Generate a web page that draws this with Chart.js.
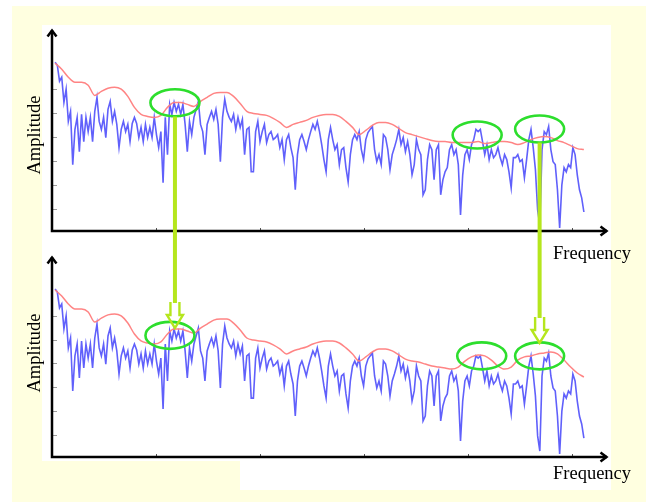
<!DOCTYPE html>
<html>
<head>
<meta charset="utf-8">
<script src="https://cdn.jsdelivr.net/npm/chart.js@4"></script>
<style>
  html, body { margin: 0; padding: 0; background: #fff; }
  #stage { position: relative; width: 646px; height: 502px; overflow: hidden; }
  .sheet { position: absolute; left: 12px; top: 6px; width: 634px; height: 496px; background: #ffffe0; }
  .panel { position: absolute; background: #fff; }
  canvas { position: absolute; left: 0; top: 0; }
</style>
</head>
<body>
<div id="stage">
  <div class="sheet"></div>
  <div class="panel" style="left:42px;top:25px;width:569px;height:436px"></div>
  <div class="panel" style="left:240px;top:461px;width:371px;height:29px"></div>
  <canvas id="spectrumTop" width="646" height="502"></canvas>
  <canvas id="spectrumBottom" width="646" height="502"></canvas>
</div>
<script>
// Frequency bins (kHz): first bin and bin spacing
const freqStart = 0.03;
const freqStep = 0.0212;

// Measured spectrum amplitude, one value per bin
const amplitude = [
  83.4, 81.9, 73.9, 75.9, 63.3, 69.9, 53.8, 58.8, 32.2, 49.8,
  55.8, 38.7, 57.3, 43.7, 55.8, 48.7, 55.8, 43.7, 58.8, 65.8,
  53.8, 49.8, 55.8, 45.7, 59.8, 63.8, 53.8, 58.8, 52.3, 40.7,
  49.8, 53.8, 48.7, 52.3, 43.7, 52.8, 55.8, 52.8, 45.7, 50.8,
  43.7, 52.3, 45.7, 50.8, 45.7, 55.8, 47.2, 40.7, 48.7, 23.1,
  55.8, 37.2, 62.3, 57.3, 63.3, 58.8, 62.3, 57.3, 62.3, 52.3,
  38.7, 53.8, 47.2, 55.8, 59.8, 63.8, 52.3, 48.7, 37.2, 52.3,
  55.8, 58.8, 54.8, 59.8, 52.3, 33.7, 55.8, 64.8, 58.8, 55.8,
  53.8, 57.3, 49.8, 55.8, 50.8, 54.8, 37.2, 49.8, 50.8, 28.6,
  28.6, 48.7, 53.8, 43.7, 48.7, 52.3, 43.2, 47.2, 48.7, 44.7,
  45.7, 47.2, 40.7, 44.7, 34.7, 44.7, 47.2, 40.7, 35.7, 19.6,
  37.2, 44.7, 47.2, 43.7, 39.7, 44.7, 48.7, 52.3, 49.8, 53.8,
  48.7, 42.2, 34.7, 28.6, 44.7, 50.8, 44.7, 39.7, 42.2, 32.2,
  39.7, 40.7, 30.7, 23.6, 37.2, 44.7, 47.2, 44.7, 48.7, 39.7,
  34.7, 44.7, 48.2, 49.8, 51.3, 39.7, 33.7, 37.2, 32.2, 47.2,
  45.7, 39.7, 29.7, 37.2, 40.7, 44.7, 49.8, 42.2, 45.7, 38.7,
  43.7, 37.2, 27.1, 32.2, 44.7, 39.7, 37.2, 17.1, 19.6, 34.7,
  42.2, 39.7, 24.6, 39.7, 42.2, 17.1, 24.6, 28.6, 30.7, 39.7,
  42.2, 37.2, 39.7, 32.2, 7.0, 27.1, 37.2, 39.7, 34.7, 42.2,
  44.7, 49.8, 48.7, 49.8, 43.7, 37.2, 42.2, 34.7, 39.7, 35.7,
  37.2, 40.7, 35.7, 32.2, 37.2, 34.7, 28.6, 20.6, 35.7, 35.7,
  37.2, 33.7, 34.7, 25.6, 34.7, 44.7, 49.8, 40.7, 29.7, 9.6,
  2.0, 39.7, 48.7, 47.2, 51.3, 39.7, 33.7, 32.2, 19.6, 0.5,
  22.1, 30.7, 28.6, 32.2, 30.7, 40.7, 37.2, 27.1, 19.6, 15.6,
  8.5
];

// Envelopes, one value every third bin
const envelopeStep = 3;
const envelopeTop = [
  82.9, 79.9, 75.9, 73.4, 73.4, 71.9, 66.8, 68.8, 70.4, 70.9,
  69.9, 66.3, 60.8, 57.3, 56.3, 55.8, 56.8, 60.8, 63.3, 63.3,
  62.3, 61.3, 63.8, 65.8, 67.8, 68.3, 68.3, 66.3, 62.8, 58.8,
  57.8, 57.3, 56.8, 55.3, 53.3, 50.8, 52.3, 53.3, 54.3, 55.8,
  56.8, 57.3, 57.3, 56.3, 53.8, 50.8, 47.2, 49.3, 51.8, 53.3,
  53.3, 52.3, 50.3, 48.2, 47.2, 46.2, 45.2, 44.2, 43.7, 43.7,
  43.2, 43.2, 43.2, 43.2, 43.7, 42.7, 43.2, 43.7, 43.7, 43.2,
  42.2, 43.2, 44.7, 45.7, 46.2, 45.7, 44.2, 43.2, 41.7, 40.2,
  39.7
];
const envelopeBottom = [
  82.9, 79.9, 75.9, 73.4, 73.4, 71.9, 66.8, 68.8, 70.4, 70.9,
  69.9, 66.3, 60.8, 57.3, 56.3, 55.8, 56.8, 60.8, 63.3, 63.3,
  62.3, 61.3, 63.8, 65.8, 67.8, 68.3, 68.3, 66.3, 62.8, 58.8,
  57.8, 57.3, 56.8, 55.3, 53.3, 50.8, 52.3, 53.3, 54.3, 55.8,
  56.8, 57.3, 57.3, 56.3, 53.8, 50.8, 47.2, 49.3, 51.8, 53.3,
  53.3, 52.3, 50.3, 48.2, 47.2, 46.7, 45.7, 44.7, 44.2, 43.7,
  43.2, 44.2, 47.2, 49.3, 50.3, 49.8, 47.7, 44.7, 43.2, 44.2,
  47.7, 49.3, 49.8, 50.8, 51.3, 51.8, 50.8, 47.7, 44.2, 41.2,
  39.2
];

// Axis tick positions
const freqTicks = [1, 2, 3, 4, 5];
const ampTicks = [10, 22, 34, 46, 58, 70];

// Highlighted peaks (centre frequency, centre amplitude)
const ringFreqTop = [1.183, 4.091, 4.692];
const ringAmpTop = [63.1, 47.0, 50.0];
const ringFreqBottom = [1.135, 4.135, 4.692];
const ringAmpBottom = [60.1, 49.8, 49.8];

// Links from the upper peaks down to the lower ones
const arrowFreq = [1.183, 4.692];
const arrowFromAmp = [56.3, 43.2];
const arrowToAmp = [63.8, 56.3];

const SERIF = '18.5px "Liberation Serif", "Times New Roman", serif';
const BLUE = 'rgba(35, 35, 250, 0.72)';
const RED = 'rgba(255, 125, 125, 0.95)';
const GREEN = 'rgb(45, 222, 45)';
const LIME = '#b5e61d';

function binPoints(values, every) {
  return values.map((v, i) => ({ x: freqStart + i * every * freqStep, y: v }));
}

function drawFrame(chart, t) {
  const { ctx, chartArea: a, scales: { x, y } } = chart;
  ctx.save();
  // small tick marks inside the axes
  ctx.strokeStyle = '#9c9c9c';
  ctx.lineWidth = 1;
  ampTicks.forEach(v => {
    const py = Math.round(y.getPixelForValue(v)) + 0.5;
    ctx.beginPath(); ctx.moveTo(a.left, py); ctx.lineTo(a.left + 5, py); ctx.stroke();
  });
  ctx.strokeStyle = '#555';
  freqTicks.forEach(f => {
    const px = Math.round(x.getPixelForValue(f)) + 0.5;
    ctx.beginPath(); ctx.moveTo(px, a.bottom); ctx.lineTo(px, a.bottom - 3); ctx.stroke();
  });
  // axis lines with arrowheads
  ctx.strokeStyle = '#000';
  ctx.lineWidth = 2.5;
  ctx.lineJoin = 'miter';
  ctx.beginPath();
  ctx.moveTo(a.left, a.top + 1);
  ctx.lineTo(a.left, a.bottom);
  ctx.lineTo(a.right - 1, a.bottom);
  ctx.stroke();
  ctx.beginPath();
  ctx.moveTo(a.left - 4.5, a.top + 7.5); ctx.lineTo(a.left, a.top + 1.5); ctx.lineTo(a.left + 4.5, a.top + 7.5);
  ctx.stroke();
  ctx.beginPath();
  ctx.moveTo(a.right - 7.5, a.bottom - 4.5); ctx.lineTo(a.right - 1.5, a.bottom); ctx.lineTo(a.right - 7.5, a.bottom + 4.5);
  ctx.stroke();
  // axis titles
  ctx.fillStyle = '#000';
  ctx.font = SERIF;
  ctx.textBaseline = 'alphabetic';
  ctx.textAlign = 'left';
  ctx.fillText('Frequency', a.right - 55, a.bottom + t.freqDrop);
  ctx.translate(a.left - 12.5, t.ampMid);
  ctx.rotate(-Math.PI / 2);
  ctx.textAlign = 'center';
  ctx.fillText('Amplitude', 0, 0);
  ctx.restore();
}

function drawRings(chart, freqs, amps) {
  const { ctx, scales: { x, y } } = chart;
  ctx.save();
  ctx.strokeStyle = GREEN;
  ctx.lineWidth = 2.6;
  freqs.forEach((f, i) => {
    ctx.beginPath();
    ctx.ellipse(x.getPixelForValue(f), y.getPixelForValue(amps[i]), 24.5, 13.5, 0, 0, Math.PI * 2);
    ctx.stroke();
  });
  ctx.restore();
}

function drawLinks(chart, upper) {
  const { ctx, scales: { x, y } } = chart;
  ctx.save();
  ctx.strokeStyle = LIME;
  arrowFreq.forEach((f, i) => {
    const px = x.getPixelForValue(f);
    const y0 = upper.scales.y.getPixelForValue(arrowFromAmp[i]);
    const tip = y.getPixelForValue(arrowToAmp[i]);
    const neck = tip - 13, top = tip - 26;
    ctx.lineWidth = 4;
    ctx.beginPath(); ctx.moveTo(px, y0); ctx.lineTo(px, top + 1); ctx.stroke();
    ctx.lineWidth = 2.4;
    ctx.lineJoin = 'miter';
    ctx.beginPath();
    ctx.moveTo(px - 4.5, top);
    ctx.lineTo(px - 4.5, neck);
    ctx.lineTo(px - 8, neck);
    ctx.lineTo(px, tip);
    ctx.lineTo(px + 8, neck);
    ctx.lineTo(px + 4.5, neck);
    ctx.lineTo(px + 4.5, top);
    ctx.stroke();
  });
  ctx.restore();
}

function makeChart(id, envelope, pad, titles, after) {
  return new Chart(document.getElementById(id), {
    type: 'line',
    data: {
      datasets: [
        {
          data: binPoints(envelope, envelopeStep),
          borderColor: RED, borderWidth: 1.5, pointRadius: 0,
          cubicInterpolationMode: 'monotone', order: 0
        },
        {
          data: binPoints(amplitude, 1),
          borderColor: BLUE, borderWidth: 1.6, pointRadius: 0,
          tension: 0, order: 1
        }
      ]
    },
    options: {
      responsive: false,
      animation: false,
      events: [],
      layout: { padding: pad },
      plugins: { legend: { display: false }, tooltip: { enabled: false } },
      scales: {
        x: { type: 'linear', min: 0, max: 5.35, display: false },
        y: { type: 'linear', min: -1, max: 100, display: false }
      }
    },
    plugins: [{
      id: 'frame',
      beforeDatasetsDraw(chart) { drawFrame(chart, titles); },
      afterDatasetsDraw(chart) { after(chart); }
    }]
  });
}

const topChart = makeChart('spectrumTop', envelopeTop,
  { left: 52, right: 38, top: 29, bottom: 271 },
  { freqDrop: 28, ampMid: 135 },
  chart => drawRings(chart, ringFreqTop, ringAmpTop));

const bottomChart = makeChart('spectrumBottom', envelopeBottom,
  { left: 52, right: 38, top: 256, bottom: 45 },
  { freqDrop: 22, ampMid: 353 },
  chart => { drawRings(chart, ringFreqBottom, ringAmpBottom); drawLinks(chart, topChart); });
</script>
</body>
</html>
